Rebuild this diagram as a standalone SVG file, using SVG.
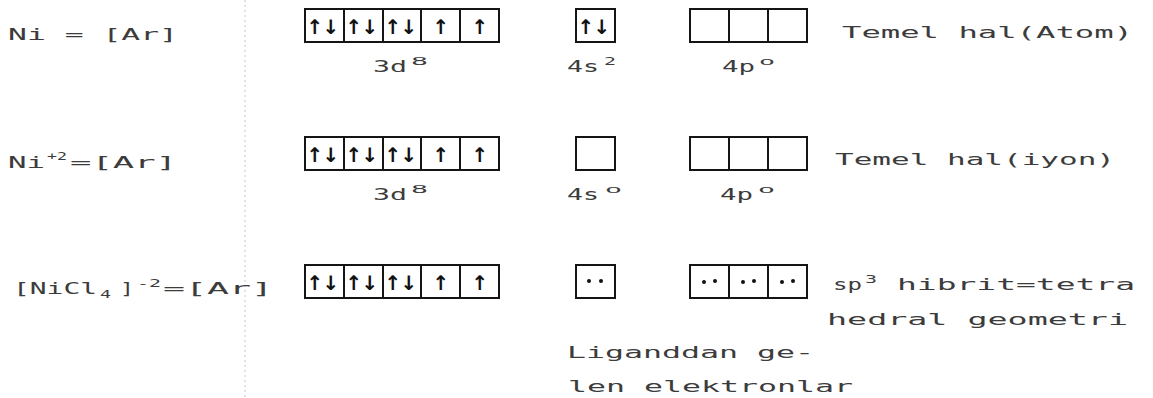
<svg xmlns="http://www.w3.org/2000/svg" width="1153" height="398" viewBox="0 0 1153 398">
<style>
.t{font-family:"DejaVu Sans Mono","Liberation Mono",monospace;font-size:16px;fill:#3c3c3c}
.s{font-family:"DejaVu Sans Mono","Liberation Mono",monospace;font-size:11px;fill:#3c3c3c}
.b{fill:#fff;stroke:#151515;stroke-width:2}
.v{stroke:#151515;stroke-width:2}
.a{font-family:"DejaVu Sans",sans-serif;font-size:20px;font-weight:bold;fill:#111;text-anchor:middle}
.d{fill:#111}
</style>
<rect width="1153" height="398" fill="#fff"/>
<g id="guide"><line x1="245" y1="0" x2="245" y2="398" stroke="#c4c4c4" stroke-width="1" stroke-dasharray="2 3"/></g>
<g id="connectors"></g>

<g id="row1">
<text class="t" x="8" y="40" textLength="170" lengthAdjust="spacingAndGlyphs">Ni = [Ar]</text>
<g id="r1-3d">
<rect class="b" x="305" y="9" width="194" height="33"/>
<line class="v" x1="344" y1="9" x2="344" y2="42"/>
<line class="v" x1="383" y1="9" x2="383" y2="42"/>
<line class="v" x1="421" y1="9" x2="421" y2="42"/>
<line class="v" x1="460" y1="9" x2="460" y2="42"/>
<text class="a" x="315" y="34">↑</text><text class="a" x="331" y="34">↓</text>
<text class="a" x="354" y="34">↑</text><text class="a" x="370" y="34">↓</text>
<text class="a" x="393" y="34">↑</text><text class="a" x="409" y="34">↓</text>
<text class="a" x="441" y="34">↑</text>
<text class="a" x="480" y="34">↑</text>
<text class="t" x="373" y="72" textLength="34" lengthAdjust="spacingAndGlyphs">3d</text>
<text class="s" x="411" y="65" textLength="17" lengthAdjust="spacingAndGlyphs">8</text>
</g>
<g id="r1-4s">
<rect class="b" x="576" y="9" width="39" height="33"/>
<text class="a" x="586" y="34">↑</text><text class="a" x="602" y="34">↓</text>
<text class="t" x="567" y="72" textLength="32" lengthAdjust="spacingAndGlyphs">4s</text>
<text class="s" x="604" y="65" textLength="12" lengthAdjust="spacingAndGlyphs">2</text>
</g>
<g id="r1-4p">
<rect class="b" x="690" y="9" width="117" height="33"/>
<line class="v" x1="729" y1="9" x2="729" y2="42"/>
<line class="v" x1="768" y1="9" x2="768" y2="42"/>
<text class="t" x="722" y="72" textLength="33" lengthAdjust="spacingAndGlyphs">4p</text>
<text class="s" x="759" y="65" textLength="16" lengthAdjust="spacingAndGlyphs">o</text>
</g>
<text class="t" x="842" y="38" textLength="291" lengthAdjust="spacingAndGlyphs">Temel hal(Atom)</text>
</g>

<g id="row2">
<text class="t" x="8" y="168" textLength="37" lengthAdjust="spacingAndGlyphs">Ni</text>
<text class="s" x="47" y="160" textLength="20" lengthAdjust="spacingAndGlyphs">+2</text>
<text class="t" x="70" y="168" textLength="107" lengthAdjust="spacingAndGlyphs">=[Ar]</text>
<g id="r2-3d">
<rect class="b" x="305" y="137" width="194" height="33"/>
<line class="v" x1="344" y1="137" x2="344" y2="170"/>
<line class="v" x1="383" y1="137" x2="383" y2="170"/>
<line class="v" x1="421" y1="137" x2="421" y2="170"/>
<line class="v" x1="460" y1="137" x2="460" y2="170"/>
<text class="a" x="315" y="162">↑</text><text class="a" x="331" y="162">↓</text>
<text class="a" x="354" y="162">↑</text><text class="a" x="370" y="162">↓</text>
<text class="a" x="393" y="162">↑</text><text class="a" x="409" y="162">↓</text>
<text class="a" x="441" y="162">↑</text>
<text class="a" x="480" y="162">↑</text>
<text class="t" x="373" y="200" textLength="34" lengthAdjust="spacingAndGlyphs">3d</text>
<text class="s" x="411" y="193" textLength="17" lengthAdjust="spacingAndGlyphs">8</text>
</g>
<g id="r2-4s">
<rect class="b" x="576" y="137" width="39" height="33"/>
<text class="t" x="567" y="200" textLength="32" lengthAdjust="spacingAndGlyphs">4s</text>
<text class="s" x="605" y="193" textLength="17" lengthAdjust="spacingAndGlyphs">o</text>
</g>
<g id="r2-4p">
<rect class="b" x="690" y="137" width="117" height="33"/>
<line class="v" x1="729" y1="137" x2="729" y2="170"/>
<line class="v" x1="768" y1="137" x2="768" y2="170"/>
<text class="t" x="720" y="200" textLength="33" lengthAdjust="spacingAndGlyphs">4p</text>
<text class="s" x="758" y="193" textLength="17" lengthAdjust="spacingAndGlyphs">o</text>
</g>
<text class="t" x="835" y="165" textLength="280" lengthAdjust="spacingAndGlyphs">Temel hal(iyon)</text>
</g>

<g id="row3">
<text class="t" x="13" y="294" textLength="84" lengthAdjust="spacingAndGlyphs">[NiCl</text>
<text class="s" x="100" y="298" textLength="11" lengthAdjust="spacingAndGlyphs">4</text>
<text class="t" x="120" y="294" textLength="14" lengthAdjust="spacingAndGlyphs">]</text>
<text class="s" x="137" y="287" textLength="24" lengthAdjust="spacingAndGlyphs">-2</text>
<text class="t" x="163" y="294" textLength="110" lengthAdjust="spacingAndGlyphs">=[Ar]</text>
<g id="r3-3d">
<rect class="b" x="305" y="265" width="194" height="33"/>
<line class="v" x1="344" y1="265" x2="344" y2="298"/>
<line class="v" x1="383" y1="265" x2="383" y2="298"/>
<line class="v" x1="421" y1="265" x2="421" y2="298"/>
<line class="v" x1="460" y1="265" x2="460" y2="298"/>
<text class="a" x="315" y="290">↑</text><text class="a" x="331" y="290">↓</text>
<text class="a" x="354" y="290">↑</text><text class="a" x="370" y="290">↓</text>
<text class="a" x="393" y="290">↑</text><text class="a" x="409" y="290">↓</text>
<text class="a" x="441" y="290">↑</text>
<text class="a" x="480" y="290">↑</text>
</g>
<g id="r3-4s">
<rect class="b" x="576" y="265" width="39" height="33"/>
<circle class="d" cx="589" cy="281" r="2"/><circle class="d" cx="601" cy="281" r="2"/>
</g>
<g id="r3-4p">
<rect class="b" x="690" y="265" width="117" height="33"/>
<line class="v" x1="729" y1="265" x2="729" y2="298"/>
<line class="v" x1="768" y1="265" x2="768" y2="298"/>
<circle class="d" cx="704" cy="282" r="2"/><circle class="d" cx="715" cy="281" r="2"/>
<circle class="d" cx="743" cy="282" r="2"/><circle class="d" cx="754" cy="281" r="2"/>
<circle class="d" cx="782" cy="282" r="2"/><circle class="d" cx="793" cy="281" r="2"/>
</g>
<text class="t" x="833" y="290" textLength="29" lengthAdjust="spacingAndGlyphs">sp</text>
<text class="s" x="865" y="283" textLength="12" lengthAdjust="spacingAndGlyphs">3</text>
<text class="t" x="897" y="290" textLength="238" lengthAdjust="spacingAndGlyphs">hibrit=tetra</text>
<text class="t" x="827" y="325" textLength="301" lengthAdjust="spacingAndGlyphs">hedral geometri</text>
<text class="t" x="567" y="358" textLength="247" lengthAdjust="spacingAndGlyphs">Liganddan ge-</text>
<text class="t" x="568" y="392" textLength="285" lengthAdjust="spacingAndGlyphs">len elektronlar</text>
</g>
</svg>
